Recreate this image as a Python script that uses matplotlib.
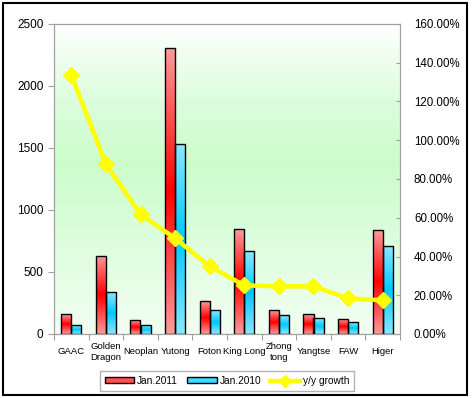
import matplotlib
matplotlib.use("Agg")
import matplotlib.pyplot as plt
import numpy as np
from matplotlib.colors import LinearSegmentedColormap
from matplotlib.patches import Rectangle
from matplotlib.lines import Line2D
from matplotlib.ticker import FuncFormatter, MultipleLocator

plt.rcParams["font.family"] = ["Liberation Sans", "DejaVu Sans"]

brands = ["GAAC", "Golden\nDragon", "Neoplan", "Yutong", "Foton", "King Long",
          "Zhong\ntong", "Yangtse", "FAW", "Higer"]
jan2011 = [159, 632, 110, 2304, 263, 844, 191, 159, 118, 836]
jan2010 = [70, 336, 70, 1530, 191, 667, 151, 126, 94, 707]
growth = [133.7, 87.7, 61.8, 49.4, 34.9, 25.1, 24.6, 24.6, 18.4, 17.4]

fig = plt.figure(figsize=(4.74, 3.98), dpi=100)
ax = fig.add_axes([54 / 474, 1 - 334 / 398, 346 / 474, 310 / 398])
x = np.arange(len(brands))

# plot area background: white top, green middle, pale bottom
bg = LinearSegmentedColormap.from_list(
    "bg", [(0, "#f2fff2"), (0.55, "#ccfccc"), (0.75, "#dcfddc"), (1, "#ffffff")])
ax.imshow(np.linspace(0, 1, 256).reshape(-1, 1), cmap=bg, origin="lower",
          extent=[-0.5, len(brands) - 0.5, 0, 2500], aspect="auto", zorder=0)

red = LinearSegmentedColormap.from_list("r", ["#ff9a9a", "#ff0000", "#ff9a9a"])
blue = LinearSegmentedColormap.from_list("b", ["#8ae8ff", "#00c8ff", "#8ae8ff"])
w = 0.29
grad = np.linspace(0, 1, 128).reshape(-1, 1)
for vals, cmap, off in [(jan2011, red, -w / 2), (jan2010, blue, w / 2)]:
    for xi, v in zip(x, vals):
        x0 = xi + off - w / 2
        im = ax.imshow(grad, cmap=cmap, origin="lower", aspect="auto",
                       extent=[x0, x0 + w, 0, v], zorder=2)
        r = Rectangle((x0, 0), w, v, fill=False, edgecolor="black", lw=1.0,
                      zorder=3)
        ax.add_patch(r)
        im.set_clip_path(r)

ax.set_xlim(-0.5, len(brands) - 0.5)
ax.set_ylim(0, 2500)
ax.yaxis.set_major_locator(MultipleLocator(500))
ax.set_xticks(np.arange(len(brands) + 1) - 0.5)
ax.set_xticklabels([])
for s in ax.spines.values():
    s.set_color("#a0a0a0")
ax.tick_params(axis="y", colors="#a0a0a0", labelcolor="black", labelsize=8.5,
               length=4, direction="out")
ax.tick_params(axis="x", colors="#a0a0a0", length=4, direction="out")
for xi, lab in zip(x, brands):
    ax.text(xi, -0.058, lab, transform=ax.get_xaxis_transform(), ha="center",
            va="center", fontsize=6.8, linespacing=1.25)

ax2 = ax.twinx()
ax2.set_ylim(0, 160)
ax2.yaxis.set_major_locator(MultipleLocator(20))
ax2.yaxis.set_major_formatter(FuncFormatter(lambda v, p: f"{v:.2f}%"))
ax2.tick_params(axis="y", colors="#a0a0a0", labelcolor="black", labelsize=8.3,
                length=3, direction="in", pad=10)
for s in ax2.spines.values():
    s.set_color("#a0a0a0")
ax2.plot(x, growth, color="#ffff00", lw=3.2, marker="D", ms=8,
         markerfacecolor="#ffff00", markeredgecolor="#ffff00", zorder=4)

handles = [Rectangle((0, 0), 1, 1, facecolor="#ff5050", edgecolor="black"),
           Rectangle((0, 0), 1, 1, facecolor="#40d8ff", edgecolor="black"),
           Line2D([], [], color="#ffff00", lw=3.2, marker="D", ms=6)]
leg = fig.legend(handles, ["Jan.2011", "Jan.2010", "y/y growth"], ncol=3,
                 loc="center", bbox_to_anchor=(227 / 474, 1 - 381 / 398),
                 fontsize=7.3, frameon=True, fancybox=False, handlelength=2.9,
                 handleheight=0.55, columnspacing=0.9, handletextpad=0.3,
                 borderpad=0.45)
leg.get_frame().set_edgecolor("#a0a0a0")
leg.get_frame().set_linewidth(1.0)

fig.patches.append(Rectangle((3 / 474, 3 / 398), 464 / 474, 392 / 398,
                             transform=fig.transFigure, fill=False,
                             edgecolor="black", lw=1.5))

fig.savefig("out.png", dpi=100)
